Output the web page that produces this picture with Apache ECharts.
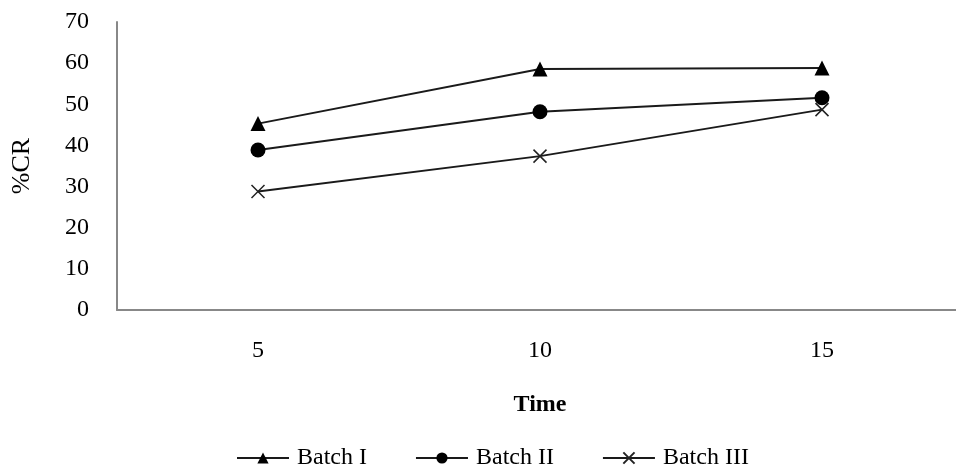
<!DOCTYPE html>
<html><head><meta charset="utf-8">
<script src="https://cdn.jsdelivr.net/npm/echarts@6/dist/echarts.min.js"></script>
<style>html,body{margin:0;padding:0;background:#fff}#c{width:956px;height:472px}</style>
</head><body><div id="c"></div>
<script>
var categories = ['5', '10', '15'];
var batchI = [45.3, 58.6, 58.8];
var batchII = [38.9, 48.2, 51.6];
var batchIII = [28.8, 37.4, 48.7];
var yTicks = [0, 10, 20, 30, 40, 50, 60, 70];

var font = 'Liberation Serif';
var lineCol = '#1a1a1a';
var chart = echarts.init(document.getElementById('c'));
chart.setOption({
  animation: false,
  backgroundColor: '#fff',
  grid: { left: 117, top: 22, width: 846, height: 288, outerBoundsMode: 'none', containLabel: false },
  legend: {
    top: 441, left: 231, itemWidth: 52, itemHeight: 14, itemGap: 48,
    textStyle: { fontFamily: font, fontSize: 24, color: '#000', padding: [0, 0, 0, 3] },
    data: ['Batch I', 'Batch II', 'Batch III']
  },
  xAxis: {
    type: 'category', data: categories, boundaryGap: true,
    name: 'Time', nameLocation: 'middle', nameGap: 83,
    nameTextStyle: { fontFamily: font, fontSize: 24, fontWeight: 'bold', color: '#000' },
    axisLine: { lineStyle: { color: '#888', width: 2 } },
    axisTick: { show: false },
    axisLabel: { fontFamily: font, fontSize: 24, color: '#000', margin: 29 }
  },
  yAxis: {
    type: 'value', min: yTicks[0], max: yTicks[yTicks.length - 1], interval: 10,
    name: '%CR', nameLocation: 'middle', nameGap: 82,
    nameTextStyle: { fontFamily: font, fontSize: 26, color: '#000' },
    axisLine: { show: true, lineStyle: { color: '#888', width: 2 } },
    axisTick: { show: false },
    splitLine: { show: false },
    axisLabel: { fontFamily: font, fontSize: 24, color: '#000', margin: 28 }
  },
  series: [
    { name: 'Batch I', type: 'line', data: batchI, symbol: 'triangle', symbolSize: 15,
      lineStyle: { color: lineCol, width: 2 }, itemStyle: { color: '#000' } },
    { name: 'Batch II', type: 'line', data: batchII, symbol: 'circle', symbolSize: 15,
      lineStyle: { color: lineCol, width: 2 }, itemStyle: { color: '#000' } },
    { name: 'Batch III', type: 'line', data: batchIII, symbol: 'path://M0,0L10,10M10,0L0,10', symbolSize: 13,
      lineStyle: { color: lineCol, width: 2 },
      itemStyle: { color: 'none', borderColor: '#222', borderWidth: 1.5 } }
  ]
});
</script></body></html>
